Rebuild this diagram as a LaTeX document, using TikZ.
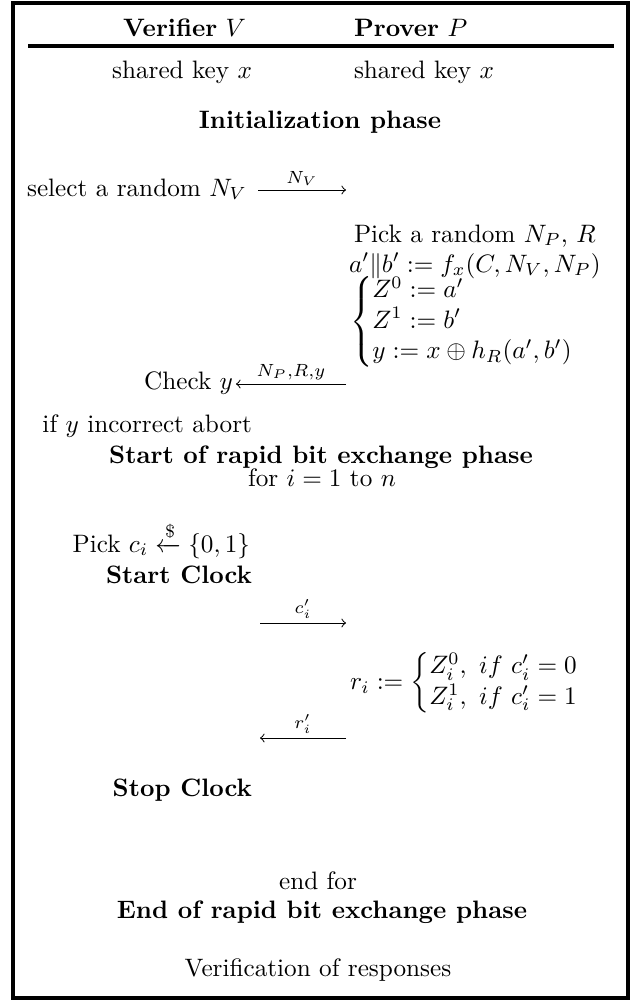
\documentclass[tikz,border=0pt]{standalone}
\usepackage{amsmath,amssymb}
\begin{document}
\begin{tikzpicture}[x=0.3968pt,y=-0.3968pt,
  txt/.style={inner sep=0pt, outer sep=0pt},
  msg/.style={->, line width=0.4pt},
  lab/.style={font=\scriptsize, inner sep=1.5pt, above}]
\useasboundingbox (0,0) rectangle (635,1001);
\draw[line width=1.2pt] (13,3) rectangle (628,998);
% header
\node[txt, anchor=base east] (hv) at (246,36) {\textbf{Verifier} $V$};
\node[txt, anchor=base west] (hp) at (354,36) {\textbf{Prover} $P$};
\coordinate (rl) at (28,46);
\coordinate (rr) at (614,46);
\draw[line width=1.2pt] (rl) -- (rr);
\node[txt, anchor=base east] (kv) at (252,78) {shared key $x$};
\node[txt, anchor=base west] (kp) at (354,78) {shared key $x$};
\node[txt, anchor=base] (init) at (320,128) {\textbf{Initialization phase}};
% message 1
\node[txt, anchor=base east] (sel) at (247,196) {select a random $N_V$};
\coordinate (m1s) at (258,190);
\coordinate (m1e) at (346,190);
\draw[msg] (m1s) -- node[lab] {$N_V$} (m1e);
\node[txt, anchor=base west] (pick) at (354,242) {Pick a random $N_P$, $R$};
\node[txt, anchor=base west] (ab) at (349,272) {$a'\|b' := f_x(C,N_V,N_P)$};
\node[txt, anchor=west] (zc) at (350,322) {$\left\{\begin{array}{@{}l@{}} Z^0 := a' \\ Z^1 := b' \\ y := x\oplus h_R(a',b')\end{array}\right.$};
% message 2
\node[txt, anchor=base east] (chk) at (233,389) {Check $y$};
\coordinate (m2s) at (346,384);
\coordinate (m2e) at (236,384);
\draw[msg] (m2s) -- node[lab] {$N_P{,}R{,}y$} (m2e);
\node[txt, anchor=base east] (abort) at (252,432) {if $y$ incorrect abort};
\node[txt, anchor=base] (srb) at (321,463) {\textbf{Start of rapid bit exchange phase}};
\node[txt, anchor=base] (for) at (322,486) {for $i=1$ to $n$};
\node[txt, anchor=base east] (pc) at (250,552) {Pick $c_i \xleftarrow{\$} \{0,1\}$};
\node[txt, anchor=base east] (sc) at (252,583) {\textbf{Start Clock}};
\coordinate (m3s) at (260,623);
\coordinate (m3e) at (346,623);
\draw[msg] (m3s) -- node[lab] {$c_i'$} (m3e);
\node[txt, anchor=west] (ri) at (350,683) {$r_i := \left\{\begin{array}{@{}l@{}} Z_i^0,\ if\ c_i'=0 \\ Z_i^1,\ if\ c_i'=1\end{array}\right.$};
\coordinate (m4s) at (346,738);
\coordinate (m4e) at (260,738);
\draw[msg] (m4s) -- node[lab] {$r_i'$} (m4e);
\node[txt, anchor=base east] (stc) at (252,796) {\textbf{Stop Clock}};
\node[txt, anchor=base] (ef) at (318,889) {end for};
\node[txt, anchor=base] (erb) at (322,918) {\textbf{End of rapid bit exchange phase}};
\node[txt, anchor=base] (ver) at (318,976) {Verification of responses};
\end{tikzpicture}
\end{document}
